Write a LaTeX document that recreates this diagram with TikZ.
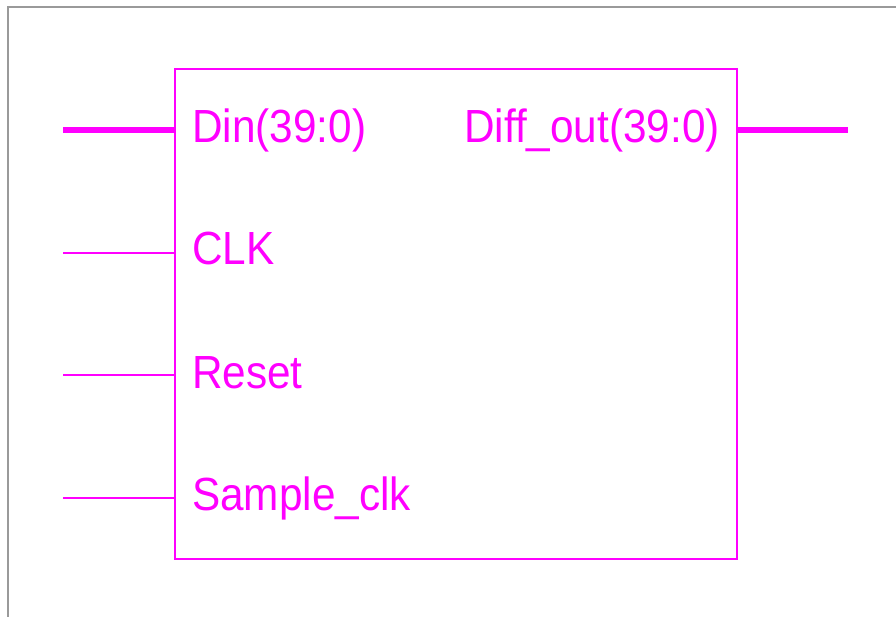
\documentclass[tikz,border=0pt]{standalone}
\usepackage{fontspec}
\setmainfont{Liberation Sans}
\definecolor{mag}{HTML}{FF00FF}
\definecolor{frame}{HTML}{9A9A9A}
\tikzset{
  portlabel/.style={inner sep=0pt, text=mag, font=\fontsize{46.5}{50}\selectfont},
  bus/.style={draw=mag, line width=6pt},
  wire/.style={draw=mag, line width=1.4pt},
  blockbox/.style={draw=mag, line width=1.8pt}
}
\newcommand{\sq}[1]{\scalebox{0.91}[1]{#1}}
\begin{document}
\begin{tikzpicture}[x={(1pt,0)}, y={(0,-1pt)}]
\useasboundingbox (0,0) rectangle (896,617);
\fill[white] (0,0) rectangle (896,617);
% outer frame (top and left)
\draw[frame, line width=2pt] (8,617) -- (8,7) -- (896,7);
% block
\coordinate (bl) at (175,69);
\coordinate (tr) at (737,559);
\draw[blockbox] (bl) rectangle (tr);
% port ends
\coordinate (dinA) at (63,130);  \coordinate (dinB) at (175,130);
\coordinate (clkA) at (63,253);  \coordinate (clkB) at (175,253);
\coordinate (rstA) at (63,375);  \coordinate (rstB) at (175,375);
\coordinate (smpA) at (63,498);  \coordinate (smpB) at (175,498);
\coordinate (outA) at (737,130); \coordinate (outB) at (848,130);
\draw[bus] (dinA) -- (dinB);
\draw[bus] (outA) -- (outB);
\draw[wire] (clkA) -- (clkB);
\draw[wire] (rstA) -- (rstB);
\draw[wire] (smpA) -- (smpB);
% labels
\node[portlabel, anchor=base west] (ldin) at (192,143) {\sq{Din(39:0)}};
\node[portlabel, anchor=base west] (lclk) at (192,265) {\sq{CLK}};
\node[portlabel, anchor=base west] (lrst) at (192,388) {\sq{Reset}};
\node[portlabel, anchor=base west] (lsmp) at (192,510) {\sq{Sample\_clk}};
\node[portlabel, anchor=base east] (lout) at (720,143) {\sq{Diff\_out(39:0)}};
\end{tikzpicture}
\end{document}
